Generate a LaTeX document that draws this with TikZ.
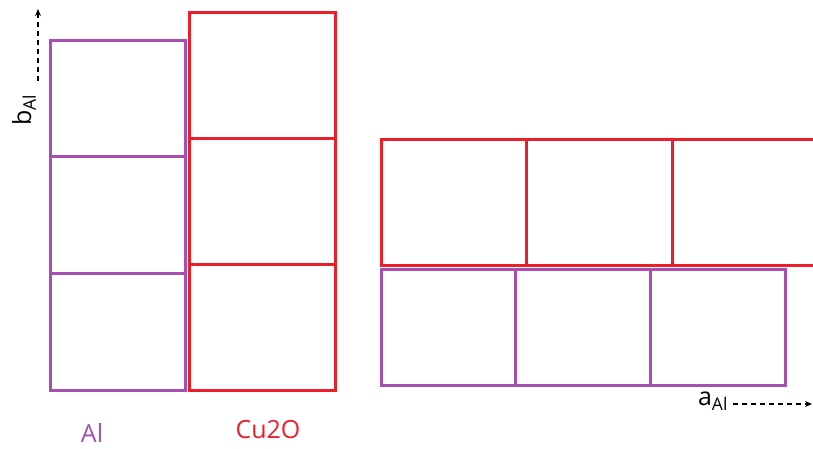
\documentclass[tikz,border=0pt]{standalone}
\usepackage{fontspec}
\setmainfont{Open Sans}
\usetikzlibrary{arrows.meta,positioning,calc}
\definecolor{alviolet}{RGB}{168,78,178}
\definecolor{cured}{RGB}{238,30,40}
\begin{document}
\begin{tikzpicture}[x=1pt,y=-1pt,
  alcell/.style={draw=alviolet,line width=3pt},
  cucell/.style={draw=cured,line width=3pt},
  axis/.style={-{Stealth[length=7pt,width=6pt]},dash pattern=on 5pt off 4pt,line width=1.2pt,black},
  lbl/.style={font=\fontsize{25}{27}\selectfont,inner sep=1pt}]
\useasboundingbox (0,0) rectangle (813,448);
\clip (0,0) rectangle (813,448);
% Al column (left) and Cu2O column beside it
\foreach \i in {0,1,2}\draw[alcell] (50,{40+116.7*\i}) rectangle ++(135,116.7);
\foreach \i in {0,1,2}\draw[cucell] (189,{12+126*\i}) rectangle ++(146,126);
% rotated view: Cu2O row on top of Al row
\foreach \i in {0,1,2}\draw[cucell] ({381+145.7*\i},139.5) rectangle ++(145.7,126);
\foreach \i in {0,1,2}\draw[alcell] ({381+134.7*\i},269) rectangle ++(134.7,116);
% labels
\node[lbl,text=alviolet](al) at (92,433){Al};
\node[lbl,text=cured](cu) at (268,430){Cu2O};
\node[lbl,rotate=90](bAl) at (24,110){b\textsubscript{Al}};
\node[lbl](aAl) at (713,401){a\textsubscript{Al}};
\coordinate (btip) at (38,9);
\coordinate (atip) at (812,404);
\draw[axis] ($(bAl.east)+(14,-12)$)--(btip);
\draw[axis] ($(aAl.east)+(4,3)$)--(atip);
\end{tikzpicture}
\end{document}
